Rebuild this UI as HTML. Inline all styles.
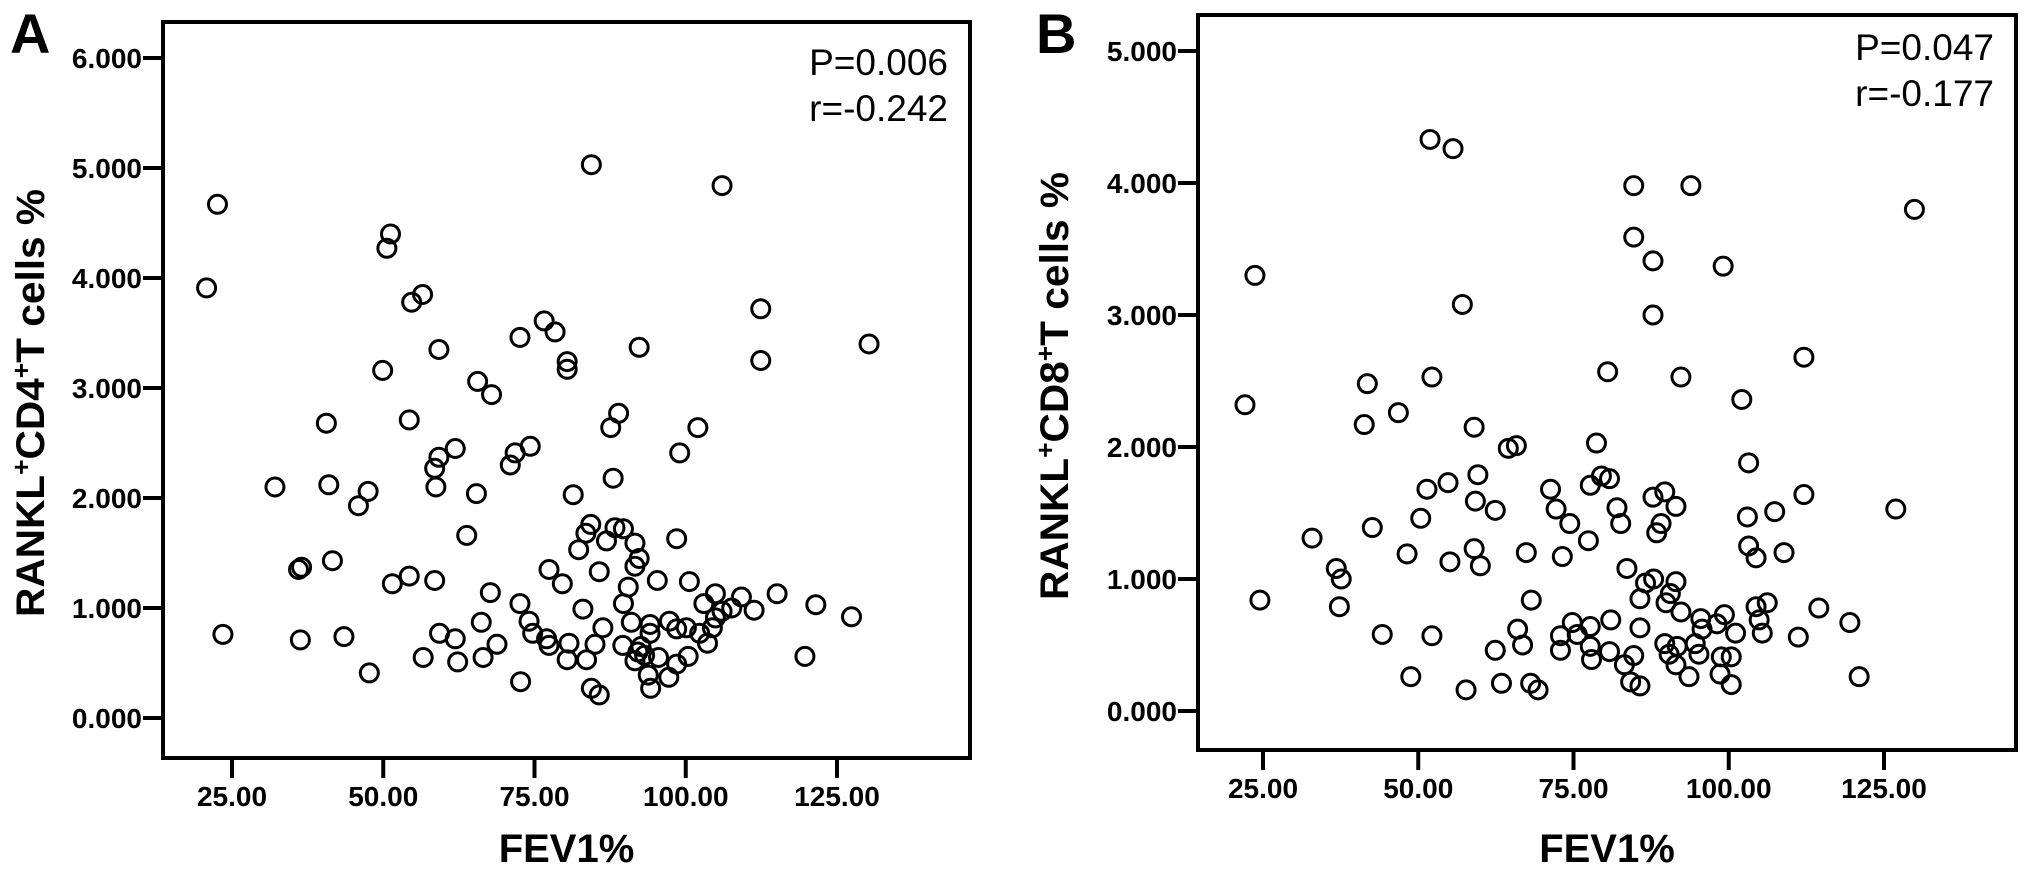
<!DOCTYPE html>
<html><head><meta charset="utf-8"><style>
html,body{margin:0;padding:0;background:#fff;}
svg{display:block;font-family:"Liberation Sans",Arial,sans-serif;}
</style></head><body>
<svg id="fig" width="2031" height="875" viewBox="0 0 2031 875" xmlns="http://www.w3.org/2000/svg"></svg>
<script>
const ticksY_A=[0,1,2,3,4,5,6];
const ticksY_B=[0,1,2,3,4,5];
const ticksX=[25,50,75,100,125];
const fevA=[84.4,106.0,22.6,51.2,50.6,20.8,54.7,56.5,112.4,76.6,78.4,72.6,59.2,92.3,130.3,80.4,80.4,112.4,49.9,65.6,67.9,88.9,87.6,102.0,40.6,54.3,61.9,59.2,58.5,74.3,71.8,71.0,99.0,88.0,32.1,41.0,58.7,47.5,45.9,65.4,81.4,63.8,84.3,83.5,88.3,89.7,86.9,91.6,98.5,82.3,92.3,91.6,85.7,77.4,79.6,36.0,36.5,41.6,51.5,54.3,58.5,67.7,90.5,95.3,100.6,72.6,83.0,89.7,103.0,104.9,109.2,115.1,121.5,127.4,111.3,107.6,106.0,104.9,104.4,91.0,74.1,66.2,23.5,36.3,43.5,59.3,61.9,74.7,77.0,77.4,86.3,94.1,97.3,98.5,100.1,102.3,103.6,94.1,68.8,85.0,89.6,80.7,56.6,66.5,62.3,80.4,83.6,47.7,72.7,92.1,92.6,91.6,93.2,95.5,98.5,100.4,93.8,97.2,94.2,84.4,85.7,119.7];
const cd4=[5.03,4.84,4.67,4.40,4.27,3.91,3.78,3.85,3.72,3.61,3.51,3.46,3.35,3.37,3.40,3.24,3.17,3.25,3.16,3.06,2.94,2.77,2.64,2.64,2.68,2.71,2.45,2.37,2.27,2.47,2.41,2.30,2.41,2.18,2.10,2.12,2.10,2.06,1.93,2.04,2.03,1.66,1.76,1.68,1.73,1.72,1.61,1.59,1.63,1.53,1.45,1.38,1.33,1.35,1.22,1.35,1.37,1.43,1.22,1.29,1.25,1.14,1.19,1.25,1.24,1.04,0.99,1.04,1.04,1.13,1.10,1.13,1.03,0.92,0.98,1.00,0.97,0.91,0.82,0.87,0.88,0.87,0.76,0.71,0.74,0.77,0.72,0.77,0.72,0.66,0.82,0.85,0.88,0.81,0.82,0.77,0.68,0.77,0.67,0.67,0.66,0.68,0.55,0.55,0.51,0.53,0.53,0.41,0.33,0.60,0.65,0.52,0.57,0.55,0.49,0.56,0.39,0.37,0.27,0.27,0.21,0.56];
const fevB=[51.9,55.6,84.7,93.9,129.9,84.7,87.8,99.1,23.7,57.1,87.8,112.1,80.5,52.2,92.3,41.8,22.1,102.1,46.8,41.3,59.0,64.5,65.8,78.7,103.2,59.6,79.5,80.8,54.8,51.4,71.3,77.7,87.8,89.7,112.1,59.2,62.4,72.2,82.0,91.5,103.0,107.4,126.9,50.4,74.4,82.6,89.1,88.4,77.4,32.9,42.6,103.2,104.4,108.9,48.2,67.4,59.0,55.1,60.0,73.2,36.8,37.6,83.6,87.9,91.5,86.6,90.6,89.9,85.7,92.3,24.5,68.2,37.3,104.4,106.2,114.5,104.9,119.5,81.0,74.8,77.7,95.5,99.3,98.1,101.1,105.4,111.2,85.7,66.0,72.9,75.6,52.2,44.2,66.8,72.9,62.4,77.7,80.8,77.9,89.7,91.7,94.6,95.7,90.4,95.2,98.8,100.4,84.7,83.2,91.5,93.6,98.6,100.4,121.0,48.8,63.4,68.1,69.3,57.7,84.2,85.7];
const cd8=[4.33,4.26,3.98,3.98,3.80,3.59,3.41,3.37,3.30,3.08,3.00,2.68,2.57,2.53,2.53,2.48,2.32,2.36,2.26,2.17,2.15,1.99,2.01,2.03,1.88,1.79,1.78,1.76,1.73,1.68,1.68,1.71,1.62,1.66,1.64,1.59,1.52,1.53,1.54,1.55,1.47,1.51,1.53,1.46,1.42,1.42,1.42,1.35,1.29,1.31,1.39,1.25,1.16,1.20,1.19,1.20,1.23,1.13,1.10,1.17,1.08,1.00,1.08,1.00,0.98,0.97,0.89,0.82,0.85,0.75,0.84,0.84,0.79,0.79,0.82,0.78,0.69,0.67,0.69,0.67,0.64,0.70,0.73,0.66,0.59,0.59,0.56,0.63,0.62,0.57,0.58,0.57,0.58,0.50,0.46,0.46,0.49,0.45,0.39,0.51,0.49,0.51,0.62,0.43,0.43,0.41,0.41,0.42,0.35,0.35,0.26,0.28,0.20,0.26,0.26,0.21,0.21,0.16,0.16,0.22,0.19];

const NS='http://www.w3.org/2000/svg';
const svg=document.getElementById('fig');
function mk(tag,attrs,parent){const e=document.createElementNS(NS,tag);for(const k in attrs)e.setAttribute(k,attrs[k]);(parent||svg).appendChild(e);return e;}

function panel(p){
  const g=mk('g',{});
  
  
  const xs=v=>p.x25+(v-25)*p.xu;
  const ys=v=>p.y0-v*p.yu;
  const box=mk('rect',{x:p.L,y:p.T,width:p.R-p.L,height:p.B-p.T,fill:'none',stroke:'#000','stroke-width':4},g);
  
  
  p.ticksY.forEach(v=>{
    const y=ys(v);
    const t=mk('line',{x1:p.L-20,x2:p.L,y1:y,y2:y,stroke:'#000','stroke-width':4},g);
    
    
    const tx=mk('text',{x:p.L-21,y:y+10,'text-anchor':'end','font-size':28,'font-weight':'bold'},g);
    tx.textContent=v.toFixed(3);
    
    
  });
  ticksX.forEach(v=>{
    const x=xs(v);
    const t=mk('line',{x1:x,x2:x,y1:p.B,y2:p.B+20,stroke:'#000','stroke-width':4},g);
    
    
    const tx=mk('text',{x:x,y:p.B+48,'text-anchor':'middle','font-size':28,'font-weight':'bold'},g);
    tx.textContent=v.toFixed(2);
    
    
  });
  p.xv.forEach((v,i)=>{
    const c=mk('circle',{cx:xs(v),cy:ys(p.yv[i]),r:9,fill:'none',stroke:'#000','stroke-width':3},g);
    
    
  });
  const xt=mk('text',{x:(p.L+p.R)/2,y:862,'text-anchor':'middle','font-size':40,'font-weight':'bold'},g);
  xt.textContent='FEV1%';
  
  
  const yt=mk('text',{x:0,y:0,'text-anchor':'middle','font-size':40,'font-weight':'bold',transform:`translate(${p.ytx},${p.yty}) rotate(-90)`,textLength:428,lengthAdjust:'spacingAndGlyphs'},g);
  yt.innerHTML='RANKL<tspan dy="-14" font-size="26">+</tspan><tspan dy="14">CD'+p.cd+'</tspan><tspan dy="-14" font-size="26">+</tspan><tspan dy="14">T cells %</tspan>';
  
  
  const s1=mk('text',{x:p.R-22,y:p.sy,'text-anchor':'end','font-size':37},g);
  s1.textContent=p.P;
  
  
  const s2=mk('text',{x:p.R-22,y:p.sy+46,'text-anchor':'end','font-size':37},g);
  s2.textContent=p.r;
  
  
  const lt=mk('text',{x:p.lx,y:53,'font-size':56,'font-weight':'bold'},g);
  lt.textContent=p.id;
  
  
}
panel({id:'A',L:163,R:970,T:22,B:758,x25:232,xu:6.05,y0:718,yu:110,ticksY:ticksY_A,xv:fevA,yv:cd4,cd:'4',ytx:44,yty:403,P:'P=0.006',r:'r=-0.242',sy:75,lx:10});
panel({id:'B',L:1198,R:2016,T:15,B:750,x25:1263,xu:6.21,y0:711,yu:132,ticksY:ticksY_B,xv:fevB,yv:cd8,cd:'8',ytx:1068,yty:386,P:'P=0.047',r:'r=-0.177',sy:60,lx:1036});
</script>
</body></html>
